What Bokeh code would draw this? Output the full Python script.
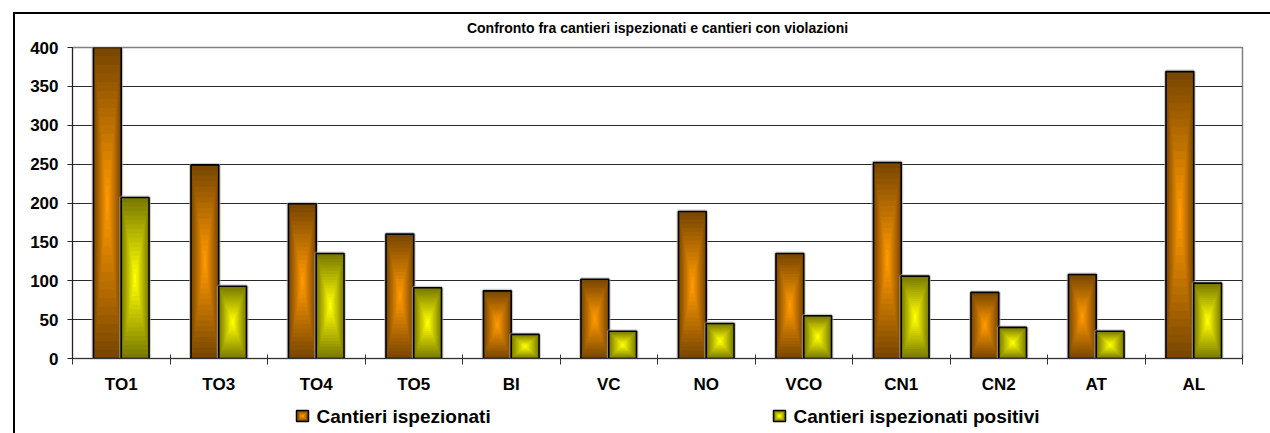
from bokeh.plotting import figure
from bokeh.layouts import column
from bokeh.models import (ColumnDataSource, FixedTicker, Range1d)
from bokeh.core.properties import value
from bokeh.embed import file_html
from bokeh.resources import INLINE

# ---------------- data ----------------
categories = ["TO1", "TO3", "TO4", "TO5", "BI", "VC", "NO", "VCO", "CN1", "CN2", "AT", "AL"]
ispezionati = [400, 249, 199, 160, 87, 102, 189, 135, 252, 85, 108, 369]
positivi = [207, 93, 135, 91, 31, 35, 45, 55, 106, 40, 35, 97]
y_ticks = [0, 50, 100, 150, 200, 250, 300, 350, 400]
series_names = ["Cantieri ispezionati", "Cantieri ispezionati positivi"]
title_text = "Confronto fra cantieri ispezionati e cantieri con violazioni"

# ---------------- style ----------------
FONT = "Liberation Sans"
FW = 1170           # frame width (px)
BL, BR = 57, 28     # left / right borders (px)
BW = 0.285          # bar width in category units
N = 18              # gradient levels
ORANGE = ((0x7A, 0x47, 0x00), (0xFF, 0x99, 0x00))
YELLOW = ((0x7A, 0x7A, 0x00), (0xFF, 0xFF, 0x00))


def lerp(c0, c1, t):
    return "#%02x%02x%02x" % tuple(int(round(a + (b - a) * t)) for a, b in zip(c0, c1))


def nested(cx_list, half_w, bottoms, tops, cols, n):
    d = dict(left=[], right=[], bottom=[], top=[], color=[])
    for cx, b, t in zip(cx_list, bottoms, tops):
        h = t - b
        for k in range(n):
            f = k / n
            hw = half_w * (1 - f)
            d["left"].append(cx - hw)
            d["right"].append(cx + hw)
            d["bottom"].append(b + h * f / 2)
            d["top"].append(t - h * f / 2)
            d["color"].append(lerp(cols[0], cols[1], k / (n - 1)))
    return ColumnDataSource(d)


def strip(height):
    f = figure(frame_width=FW, frame_height=height, x_range=Range1d(0, FW), y_range=Range1d(0, height),
               output_backend="svg", toolbar_location=None, title_location=None,
               min_border_left=BL, min_border_right=BR, min_border_top=0, min_border_bottom=0,
               background_fill_color="white", border_fill_color="white")
    f.axis.visible = False
    f.grid.visible = False
    f.outline_line_color = None
    return f


# ---------------- title strip ----------------
tf = strip(22)
tf.text(x=[585], y=[9], text=[title_text], text_align="center", text_baseline="middle",
        text_font=value(FONT), text_font_size="14px", text_font_style="bold",
        text_color="black")

# ---------------- main chart ----------------
p = figure(frame_width=FW, frame_height=311,
           x_range=Range1d(-0.5, len(categories) - 0.5),
           y_range=Range1d(0, 400),
           output_backend="svg", toolbar_location=None, title_location=None,
           min_border_left=BL, min_border_right=BR,
           min_border_top=11, min_border_bottom=40,
           background_fill_color="white", border_fill_color="white")

p.xgrid.visible = False
p.ygrid.grid_line_color = "#2a2a2a"
p.ygrid.grid_line_width = 1
p.outline_line_color = "#808080"
p.outline_line_width = 1.5

p.yaxis.ticker = FixedTicker(ticks=y_ticks)
p.yaxis.major_tick_out = 5
p.yaxis.major_tick_in = 0
p.yaxis.minor_tick_out = 0
p.yaxis.minor_tick_in = 0
p.yaxis.axis_line_color = "#222222"
p.yaxis.major_tick_line_color = "#222222"
p.yaxis.major_label_text_font = FONT
p.yaxis.major_label_text_font_size = "17px"
p.yaxis.major_label_text_font_style = "bold"
p.yaxis.major_label_text_color = "black"
p.yaxis.major_label_standoff = 9

p.xaxis.ticker = FixedTicker(ticks=list(range(len(categories))),
                             minor_ticks=[i - 0.5 for i in range(len(categories) + 1)])
p.xaxis.major_label_overrides = {i: c for i, c in enumerate(categories)}
p.xaxis.major_tick_out = 0
p.xaxis.major_tick_in = 0
p.xaxis.minor_tick_out = 6
p.xaxis.minor_tick_in = 4
p.xaxis.axis_line_color = "#333333"
p.xaxis.minor_tick_line_color = "#333333"
p.xaxis.major_label_text_font = FONT
p.xaxis.major_label_text_font_size = "17px"
p.xaxis.major_label_text_font_style = "bold"
p.xaxis.major_label_text_color = "black"
p.xaxis.major_label_standoff = 10

for vals, off, cols in ((ispezionati, -BW / 2, ORANGE), (positivi, BW / 2, YELLOW)):
    centers = [i + off for i in range(len(vals))]
    ol = ColumnDataSource(dict(left=[c - BW / 2 for c in centers],
                               right=[c + BW / 2 for c in centers],
                               bottom=[0] * len(vals), top=list(vals)))
    p.quad(left="left", right="right", bottom="bottom", top="top", source=ol,
           fill_color=None, line_color="#b0b0b0", line_width=4, line_alpha=0.6)
    p.quad(left="left", right="right", bottom="bottom", top="top",
           source=nested(centers, BW / 2, [0] * len(vals), vals, cols, N),
           fill_color="color", line_color=None)
    p.quad(left="left", right="right", bottom="bottom", top="top", source=ol,
           fill_color=None, line_color="black", line_width=1.6)

# ---------------- legend strip (swatch + bold label per series) ----------------
lf = strip(35)
legend_x = [230, 707]          # swatch centres in frame pixels
for name, cols, sx in ((series_names[0], ORANGE, legend_x[0]), (series_names[1], YELLOW, legend_x[1])):
    lf.quad(left="left", right="right", bottom="bottom", top="top",
            source=nested([sx], 6, [12], [23], cols, 6), fill_color="color", line_color=None)
    lf.quad(left=[sx - 6], right=[sx + 6], bottom=[12], top=[23],
            fill_color=None, line_color="black", line_width=1.5)
    lf.text(x=[sx + 14], y=[17.5], text=[name], text_align="left", text_baseline="middle",
            text_font=value(FONT), text_font_size="19px", text_font_style="bold",
            text_color="black")

page = column(tf, p, lf, spacing=0)
page.styles = {"margin-left": "13px", "margin-top": "12px",
               "border-left": "2px solid black", "border-top": "2px solid black"}

open("out.html", "w").write(file_html(page, INLINE))
